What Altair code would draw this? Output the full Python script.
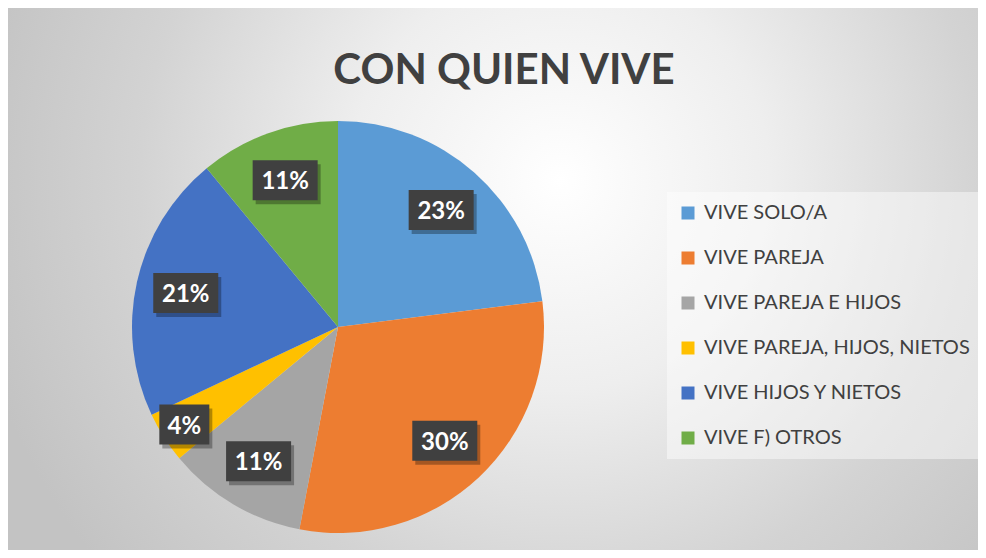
import altair as alt
import pandas as pd

# ---- data ----
categories = [
    "VIVE SOLO/A",
    "VIVE PAREJA",
    "VIVE PAREJA E HIJOS",
    "VIVE PAREJA, HIJOS, NIETOS",
    "VIVE HIJOS Y NIETOS",
    "VIVE F) OTROS",
]
percentages = [23, 30, 11, 4, 21, 11]
colors = ["#5b9bd5", "#ed7d31", "#a5a5a5", "#ffc000", "#4472c4", "#70ad47"]
title_text = "CON QUIEN VIVE"

# ---- layout ----
W, H = 970, 542
CX, CY, R = 330, 319, 206
LABEL_R = 156
FONT = "Lato"

df = pd.DataFrame({"categoria": categories, "pct": percentages, "orden": list(range(len(categories)))})
one = pd.DataFrame({"t": [title_text]})

bg = alt.Chart(one).mark_rect(
    clip=True,
    color=alt.RadialGradient(
        gradient="radial",
        x1=0.5, y1=0.5, r1=0, x2=0.5, y2=0.5, r2=0.5,
        stops=[
            alt.GradientStop(color="#ffffff", offset=0),
            alt.GradientStop(color="#fafafa", offset=0.1),
            alt.GradientStop(color="#eeeeee", offset=0.35),
            alt.GradientStop(color="#d3d3d3", offset=0.7),
            alt.GradientStop(color="#c3c3c3", offset=1),
        ],
    ),
).encode(
    x=alt.value(552 - 600), x2=alt.value(552 + 600),
    y=alt.value(172 - 600), y2=alt.value(172 + 600),
)

pie = alt.Chart(df).mark_arc(radius=R).encode(
    theta=alt.Theta("pct:Q", stack=True),
    color=alt.Color(
        "categoria:N",
        scale=alt.Scale(domain=categories, range=colors),
        legend=alt.Legend(
            title=None, orient="none", legendX=659, legendY=184,
            fillColor="rgba(255,255,255,0.45)", padding=11, rowPadding=25,
            symbolType="square", symbolSize=169, symbolStrokeWidth=0,
            labelFont=FONT, labelFontSize=20, labelColor="#404040",
            labelOffset=6, labelLimit=400,
        ),
    ),
    order=alt.Order("orden:Q"),
    x=alt.value(CX), y=alt.value(CY),
)

lab = alt.Chart(df).transform_joinaggregate(
    total="sum(pct)"
).transform_window(
    cum="sum(pct)", sort=[alt.SortField("orden")]
).transform_calculate(
    mid="2*PI*(datum.cum - datum.pct/2)/datum.total",
    lr=f"datum.pct < 6 ? 182 : {LABEL_R}",
    lx=f"{CX} + datum.lr*sin(datum.mid)",
    ly=f"{CY} - datum.lr*cos(datum.mid)",
    label="datum.pct + '%'",
    bw="20 + 15*length(datum.label)",
    bx1="datum.lx - datum.bw/2",
    bx2="datum.lx + datum.bw/2",
    by1="datum.ly - 20",
    by2="datum.ly + 20",
    sx1="datum.bx1 + 3", sx2="datum.bx2 + 3",
    sy1="datum.by1 + 4", sy2="datum.by2 + 4",
    ty="datum.ly + 9",
)

shadow = lab.mark_rect(color="#000000", opacity=0.3).encode(
    x=alt.X("sx1:Q", scale=None), x2="sx2:Q",
    y=alt.Y("sy1:Q", scale=None), y2="sy2:Q",
)
box = lab.mark_rect(color="#404040").encode(
    x=alt.X("bx1:Q", scale=None), x2="bx2:Q",
    y=alt.Y("by1:Q", scale=None), y2="by2:Q",
)
text = lab.mark_text(
    font=FONT, fontWeight="bold", fontSize=24, color="#ffffff",
    align="center", baseline="alphabetic",
).encode(
    x=alt.X("lx:Q", scale=None), y=alt.Y("ty:Q", scale=None), text="label:N",
)

title = alt.Chart(one).mark_text(
    font=FONT, fontWeight="bold", fontSize=42, color="#404040",
    align="center", baseline="alphabetic",
).encode(x=alt.value(496), y=alt.value(76), text="t:N")

chart = alt.layer(bg, pie, shadow, box, text, title).properties(
    width=W, height=H, padding=0, autosize=alt.AutoSizeParams(type="none"),
).configure_view(strokeWidth=0)

chart.save("out.html", embed_options={"renderer": "svg", "actions": False})
